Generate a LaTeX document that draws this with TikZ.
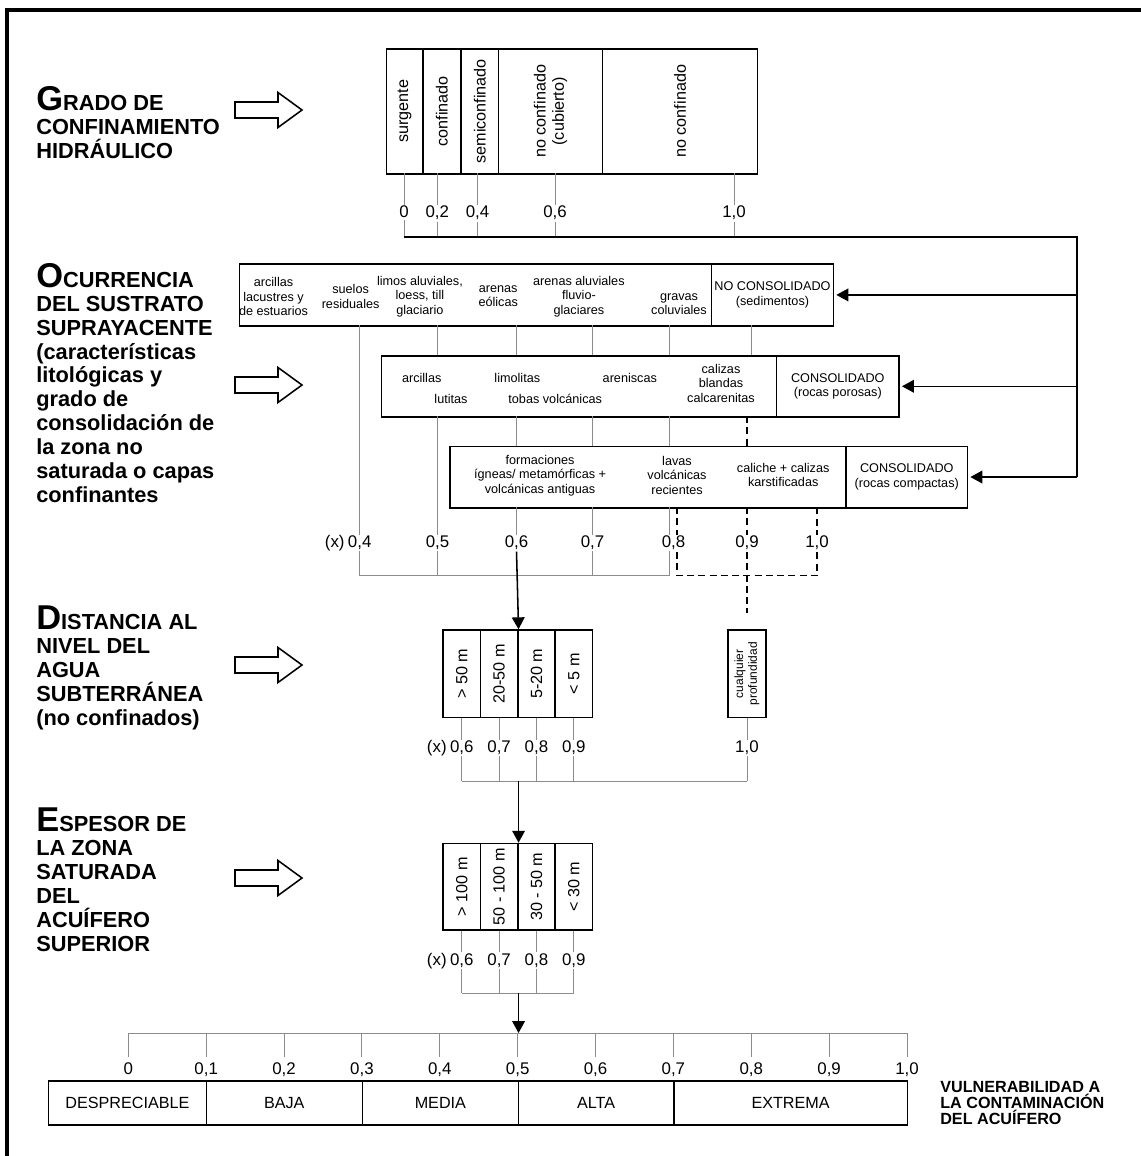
\documentclass[tikz,border=0pt]{standalone}
\usepackage{fontspec}
\setmainfont{Liberation Sans}
\usetikzlibrary{arrows.meta, positioning}

\definecolor{tickgray}{gray}{0.55}
\newcommand{\pxu}{0.025cm}
\newcommand{\bigini}[1]{{\fontsize{24.5}{17}\selectfont #1}}

\tikzset{
  cell/.style={draw, line width=1.1pt, inner sep=0pt, anchor=north west},
  boxtext/.style={font=\fontsize{9}{10.3}\selectfont, align=center, inner sep=0pt},
  vtext/.style={font=\fontsize{11.5}{13}\selectfont, align=center, rotate=90, inner sep=0pt},
  scalelbl/.style={font=\fontsize{12}{13}\selectfont, fill=white, inner sep=1pt, anchor=base},
  tickline/.style={draw=tickgray, line width=0.6pt},
  rail/.style={line width=1.1pt},
  flow/.style={line width=1.1pt, -{Triangle[length=8.5pt, width=9pt]}},
  dashline/.style={line width=1.1pt, dash pattern=on 5pt off 3pt},
  hollow/.style={draw, line width=1.1pt, fill=white},
  sectitle/.style={font=\bfseries\fontsize{15.5}{17}\selectfont, align=left, anchor=north west, inner sep=0pt},
  catcell/.style={cell, line width=0.8pt, minimum height=43*\pxu, font=\fontsize{11.5}{13}\selectfont},
}

\begin{document}
\begin{tikzpicture}[x=0.025cm, y=-0.025cm]
  \useasboundingbox (0,0) rectangle (1141,1156);
  % Frame
  \draw[line width=2.5pt] (7,1156) -- (7,10) -- (1141,10);

  % Section titles
  \node[sectitle] (tgrado) at (36,86) {\bigini{G}RADO DE\\CONFINAMIENTO\\HIDRÁULICO};
  \node[sectitle] (tocurr) at (36,263) {\bigini{O}CURRENCIA\\DEL SUSTRATO\\SUPRAYACENTE\\(características\\litológicas y\\grado de\\consolidación de\\la zona no\\saturada o capas\\confinantes};
  \node[sectitle] (tdist) at (36,606) {\bigini{D}ISTANCIA AL\\NIVEL DEL\\AGUA\\SUBTERRÁNEA\\(no confinados)};
  \node[sectitle] (tesp) at (36,808) {\bigini{E}SPESOR DE\\LA ZONA\\SATURADA\\DEL\\ACUÍFERO\\SUPERIOR};

  % Hollow arrows
  \foreach \ya in {110,385,665,878}
    \draw[hollow] (235,\ya-8) -- (278,\ya-8) -- (278,\ya-17.5) -- (302,\ya)
      -- (278,\ya+17.5) -- (278,\ya+8) -- (235,\ya+8) -- cycle;

  % Confinement box
  \node[cell, minimum width=36.4*\pxu, minimum height=125*\pxu] (surg) at (385.6,48) {};
  \node[cell, minimum width=38.2*\pxu, minimum height=125*\pxu] (confin) at (422,48) {};
  \node[cell, minimum width=37.5*\pxu, minimum height=125*\pxu] (semic) at (460.2,48) {};
  \node[cell, minimum width=104.1*\pxu, minimum height=125*\pxu] (nocub) at (497.7,48) {};
  \node[cell, minimum width=155*\pxu, minimum height=125*\pxu] (nocon) at (601.8,48) {};
  \node[vtext] (surgt) at (surg) {surgente};
  \node[vtext] (confint) at (confin) {confinado};
  \node[vtext] (semict) at (semic) {semiconfinado};
  \node[vtext] (nocubt) at (nocub) {no confinado\\(cubierto)};
  \node[vtext] (nocont) at (nocon) {no confinado};
  \foreach \xt/\lab/\nm in {404/0/g0, 437.3/{0,2}/g2, 477.5/{0,4}/g4, 555/{0,6}/g6, 734/{1,0}/g10}{
    \draw[tickline] (\xt,173) -- (\xt,237);
    \node[scalelbl] (\nm) at (\xt,218) {\lab};
  }

  % Substrate boxes
  \node[cell, minimum width=472*\pxu, minimum height=61.7*\pxu] (sedlist) at (238.7,263.3) {};
  \node[cell, minimum width=122*\pxu, minimum height=61.7*\pxu] (nocons) at (710.7,263.3) {};
  \node[cell, minimum width=395*\pxu, minimum height=61*\pxu] (porlist) at (380.7,355) {};
  \node[cell, minimum width=122.6*\pxu, minimum height=61*\pxu] (conspor) at (775.7,355) {};
  \node[cell, minimum width=396.2*\pxu, minimum height=61.5*\pxu] (complist) at (449.1,445.5) {};
  \node[cell, minimum width=121.4*\pxu, minimum height=61.5*\pxu] (conscomp) at (845.3,445.5) {};

  \node[boxtext] (arcl) at (273.5,296.5) {arcillas\\lacustres y\\de estuarios};
  \node[boxtext] (suel) at (350.6,296.3) {suelos\\residuales};
  \node[boxtext] (limo) at (419.9,296.5) {limos aluviales,\\loess, till\\glaciario};
  \node[boxtext] (areo) at (498.2,296.3) {arenas\\eólicas};
  \node[boxtext] (aral) at (578.9,296.5) {arenas aluviales\\fluvio-\\glaciares};
  \node[boxtext] (grav) at (679,304) {gravas\\coluviales};
  \node[boxtext] (noconst) at (nocons) {NO CONSOLIDADO\\(sedimentos)};

  \node[boxtext] (arci) at (421.7,378.3) {arcillas};
  \node[boxtext] (luti) at (451,399.2) {lutitas};
  \node[boxtext] (limol) at (517.3,378.3) {limolitas};
  \node[boxtext] (toba) at (555.2,399.2) {tobas volcánicas};
  \node[boxtext] (aren) at (629.8,378.3) {areniscas};
  \node[boxtext] (cali) at (721,383.3) {calizas\\blandas\\calcarenitas};
  \node[boxtext] (consport) at (conspor) {CONSOLIDADO\\(rocas porosas)};

  \node[boxtext] (form) at (540.1,475.3) {formaciones\\ígneas/ metamórficas +\\volcánicas antiguas};
  \node[boxtext] (lava) at (677,475.3) {lavas\\volcánicas\\recientes};
  \node[boxtext] (cach) at (783.2,475) {caliche + calizas\\karstificadas};
  \node[boxtext] (conscompt) at (conscomp) {CONSOLIDADO\\(rocas compactas)};

  % Rail to the three substrate classes
  \coordinate (railw) at (404,237);
  \coordinate (raile) at (1077,237);
  \draw[rail] (railw) -- (raile) -- (conscomp.east -| raile);
  \draw[flow, shorten >=1.5pt] (nocons.east -| raile) -- (nocons.east);
  \draw[flow, shorten >=1.5pt] (conspor.east -| raile) -- (conspor.east);
  \draw[flow, shorten >=1.5pt] (conscomp.east -| raile) -- (conscomp.east);

  % Substrate ticks
  \foreach \xt in {437.5,516.5,592.5,669,751} \draw[tickline] (\xt,325) -- (\xt,355);
  \foreach \xt in {516.5,592.5,669} \draw[tickline] (\xt,416) -- (\xt,445.5);
  \draw[dashline] (747,416) -- (747,445.5);
  \draw[tickline] (359.7,325) -- (359.7,575.7) -- (669,575.7);
  \draw[tickline] (437.5,416) -- (437.5,575.7);
  \draw[tickline] (516.5,507) -- (516.5,545);
  \foreach \xt in {592.5,669} \draw[tickline] (\xt,507) -- (\xt,575.7);
  \draw[dashline] (677,507) -- (677,575.7) -- (817,575.7) -- (817,507);
  \coordinate (dashend) at (747,613);
  \draw[dashline] (747,507) -- (dashend);
  \foreach \xt/\lab/\nm in {359.7/{0,4}/s04, 437.5/{0,5}/s05, 516.5/{0,6}/s06, 592.5/{0,7}/s07,
      673.5/{0,8}/s08, 747/{0,9}/s09, 817/{1,0}/s10}
    \node[scalelbl] (\nm) at (\xt,547.7) {\lab};
  \node[scalelbl, anchor=base east] (sx) at (s04.base west) {(x)};

  % Depth to water box
  \foreach \i/\txt in {1/{> 50 m}, 2/{20-50 m}, 3/{5-20 m}, 4/{< 5 m}}{
    \node[cell, minimum width=37.35*\pxu, minimum height=87.4*\pxu] (d\i) at ({442.3+37.35*(\i-1)},629.3) {};
    \node[vtext] (dt\i) at (d\i) {\txt};
  }
  \node[cell, minimum width=37.7*\pxu, minimum height=87.4*\pxu] (anyd) at (727.3,629.3) {};
  \node[vtext, font=\fontsize{8.5}{9.8}\selectfont] (anydt) at (anyd) {cualquier\\profundidad};
  \draw[flow] (s06.south) -- (d2.north east);

  % Saturated thickness box
  \foreach \i/\txt in {1/{> 100 m}, 2/{50 - 100 m}, 3/{30 - 50 m}, 4/{< 30 m}}{
    \node[cell, minimum width=37.35*\pxu, minimum height=86.6*\pxu] (e\i) at ({442.3+37.35*(\i-1)},842.7) {};
    \node[vtext] (et\i) at (e\i) {\txt};
  }

  % Depth ticks
  \coordinate (dbar) at (0,781);
  \foreach \i in {1,...,4} \draw[tickline] (d\i.south) -- (d\i.south |- dbar);
  \draw[tickline] (anyd.south) -- (anyd.south |- dbar);
  \draw[tickline] (d1.south |- dbar) -- (anyd.south |- dbar);
  \foreach \i/\lab in {1/{0,6}, 2/{0,7}, 3/{0,8}, 4/{0,9}}
    \node[scalelbl] (dv\i) at (d\i.south |- 0,752.7) {\lab};
  \node[scalelbl] (dv5) at (anyd.south |- 0,752.7) {1,0};
  \node[scalelbl, anchor=base east] (dx) at (dv1.base west) {(x)};
  \draw[flow] (d2.south east |- dbar) -- (e2.north east);

  % Thickness ticks
  \coordinate (ebar) at (0,993.3);
  \foreach \i in {1,...,4} \draw[tickline] (e\i.south) -- (e\i.south |- ebar);
  \draw[tickline] (e1.south |- ebar) -- (e4.south |- ebar);
  \foreach \i/\lab in {1/{0,6}, 2/{0,7}, 3/{0,8}, 4/{0,9}}
    \node[scalelbl] (ev\i) at (e\i.south |- 0,965.3) {\lab};
  \node[scalelbl, anchor=base east] (ex) at (ev1.base west) {(x)};

  % Vulnerability scale
  \foreach \i/\lab in {0/0, 1/{0,1}, 2/{0,2}, 3/{0,3}, 4/{0,4}, 5/{0,5}, 6/{0,6}, 7/{0,7}, 8/{0,8}, 9/{0,9}, 10/{1,0}}{
    \coordinate (sc\i) at ({128.3+77.87*\i},1033);
    \draw[tickline] (sc\i) -- ++(0,23.7);
    \node[scalelbl, fill=none] (sl\i) at ({128.3+77.87*\i},1074) {\lab};
  }
  \draw[tickline] (sc0) -- (sc10);
  \draw[flow] (e2.south east |- ebar) -- (e2.south east |- sc5);

  \node[catcell, minimum width=157.2*\pxu] (despr) at (48.3,1081) {DESPRECIABLE};
  \node[catcell, minimum width=156.4*\pxu] (baja) at (205.5,1081) {BAJA};
  \node[catcell, minimum width=155.8*\pxu] (media) at (361.9,1081) {MEDIA};
  \node[catcell, minimum width=155.7*\pxu] (alta) at (517.7,1081) {ALTA};
  \node[catcell, minimum width=233.3*\pxu] (extr) at (673.4,1081) {EXTREMA};
  \draw[line width=1.8pt] (despr.north west) -- (extr.north east);
  \draw[line width=1.8pt] (despr.south west) -- (extr.south east);
  \node[font=\bfseries\fontsize{11.5}{11.5}\selectfont, align=left, anchor=north west, inner sep=0pt] (vuln)
    at (940,1081) {VULNERABILIDAD A\\LA CONTAMINACIÓN\\DEL ACUÍFERO};
\end{tikzpicture}
\end{document}
